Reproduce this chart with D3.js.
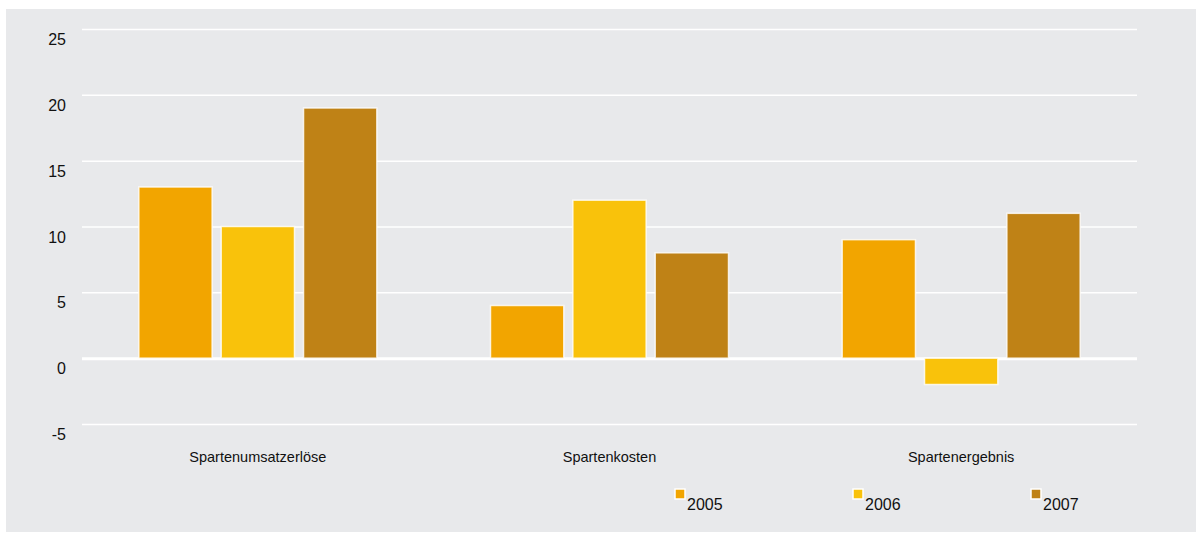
<!DOCTYPE html>
<html>
<head>
<meta charset="utf-8">
<script src="https://cdn.jsdelivr.net/npm/d3@7"></script>
<style>
  body { margin: 0; background: #fff; }
  svg { display: block; font-family: "Liberation Sans", Arial, sans-serif; }
</style>
</head>
<body>
<div id="chart"></div>
<script>
var categories = ['Spartenumsatzerlöse', 'Spartenkosten', 'Spartenergebnis'];
var years = ['2005', '2006', '2007'];
var values2005 = [13, 4, 9];
var values2006 = [10, 12, -2];
var values2007 = [19, 8, 11];
var yTicks = [-5, 0, 5, 10, 15, 20, 25];
var colors = ['#f2a500', '#f9c20b', '#bf8216'];

var series = [values2005, values2006, values2007];

(function() {
  var width = 1196;
  var height = 533;
  var plotLeft = 82, plotRight = 1137, plotTop = 29, plotBottom = 424;

  var svg = d3.select('#chart').append('svg')
    .attr('width', width)
    .attr('height', height);

  // grey panel
  svg.append('rect')
    .attr('x', 6)
    .attr('y', 9)
    .attr('width', width - 6)
    .attr('height', height - 10)
    .attr('fill', '#e8e9eb');

  var yScale = d3.scaleLinear().domain([-5, 25]).range([plotBottom, plotTop]);
  var xScale = d3.scaleBand().domain(categories).range([plotLeft, plotRight]).padding(0);
  var xInner = d3.scaleBand().domain(years)
    .range([0, 238])
    .paddingInner(0.11);
  var groupOffset = (xScale.bandwidth() - 238) / 2;

  // gridlines
  var yAxis = d3.axisLeft(yScale)
    .tickValues(yTicks)
    .tickSize(-(plotRight - plotLeft))
    .tickFormat('');

  svg.append('g')
    .attr('class', 'grid')
    .attr('transform', 'translate(' + plotLeft + ',0)')
    .call(yAxis)
    .call(function(g) { g.select('.domain').remove(); })
    .call(function(g) {
      g.selectAll('.tick line')
        .attr('stroke', '#fff')
        .attr('stroke-width', function(d) { return d === 0 ? 3 : 1.5; });
    });

  // tick labels, sitting a little below each gridline
  svg.append('g')
    .selectAll('text')
    .data(yTicks)
    .enter().append('text')
    .attr('x', 66)
    .attr('y', function(d) { return yScale(d) + 16; })
    .attr('text-anchor', 'end')
    .attr('font-size', 16)
    .attr('fill', '#111')
    .text(function(d) { return d; });

  // bars
  var groups = svg.append('g')
    .selectAll('g')
    .data(categories)
    .enter().append('g')
    .attr('transform', function(d) { return 'translate(' + (xScale(d) + groupOffset) + ',0)'; });

  groups.selectAll('rect')
    .data(function(d, i) {
      return years.map(function(yr, j) { return { year: yr, value: series[j][i], idx: j }; });
    })
    .enter().append('rect')
    .attr('x', function(d) { return xInner(d.year); })
    .attr('width', xInner.bandwidth())
    .attr('y', function(d) { return yScale(Math.max(0, d.value)); })
    .attr('height', function(d) { return Math.abs(yScale(d.value) - yScale(0)); })
    .attr('fill', function(d) { return colors[d.idx]; })
    .attr('stroke', '#fff')
    .attr('stroke-width', 1.5)
    .attr('stroke-opacity', 0.8);

  // category labels
  svg.append('g')
    .selectAll('text')
    .data(categories)
    .enter().append('text')
    .attr('x', function(d) { return xScale(d) + xScale.bandwidth() / 2; })
    .attr('y', 462)
    .attr('text-anchor', 'middle')
    .attr('font-size', 14.5)
    .attr('fill', '#111')
    .text(function(d) { return d; });

  // legend
  var legend = svg.append('g')
    .selectAll('g')
    .data(years)
    .enter().append('g')
    .attr('transform', function(d, i) { return 'translate(' + (675 + i * 178) + ',489)'; });

  legend.append('rect')
    .attr('width', 10)
    .attr('height', 10)
    .attr('fill', function(d, i) { return colors[i]; })
    .attr('stroke', '#fff')
    .attr('stroke-width', 1.5);

  legend.append('text')
    .attr('x', 12)
    .attr('y', 21)
    .attr('font-size', 16)
    .attr('fill', '#111')
    .text(function(d) { return d; });
})();
</script>
</body>
</html>
